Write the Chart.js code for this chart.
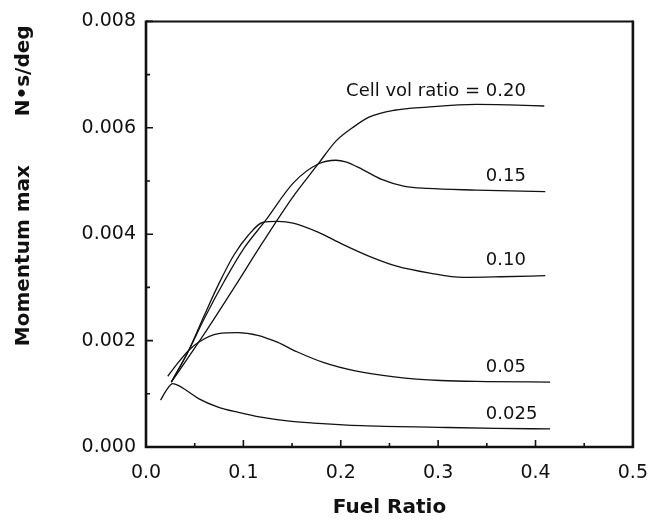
<!DOCTYPE html>
<html>
<head>
<meta charset="utf-8">
<script src="https://cdn.jsdelivr.net/npm/chart.js@4.4.1/dist/chart.umd.min.js"></script>
<style>
  html, body { margin: 0; padding: 0; background: #fff; }
  #wrap { width: 663px; height: 527px; }
</style>
</head>
<body>
<div id="wrap"><canvas id="momentumChart" width="663" height="527"></canvas></div>
<script>
// cell volume ratio for each curve (top to bottom)
const cellVolRatios = ['0.20', '0.15', '0.10', '0.05', '0.025'];

// fuel ratio (x) and max momentum N*s/deg (y)
const fuel020 = [0.026, 0.06, 0.09, 0.12, 0.15, 0.1768, 0.195, 0.212, 0.229, 0.255, 0.289, 0.339, 0.373, 0.409];
const mom020 = [0.00122, 0.00213, 0.00298, 0.00385, 0.00468, 0.00532, 0.00575, 0.0060, 0.0062, 0.00633, 0.00639, 0.00644, 0.00643, 0.00641];

const fuel015 = [0.026, 0.044, 0.06, 0.0805, 0.1, 0.122, 0.1516, 0.1768, 0.195, 0.205, 0.222, 0.242, 0.2656, 0.289, 0.339, 0.41];
const mom015 = [0.00122, 0.00182, 0.00242, 0.00312, 0.00372, 0.00424, 0.00497, 0.00532, 0.00539, 0.00536, 0.00522, 0.00503, 0.0049, 0.00486, 0.00483, 0.0048];

const fuel010 = [0.026, 0.044, 0.06, 0.0751, 0.09, 0.1046, 0.1197, 0.135, 0.151, 0.1766, 0.202, 0.23, 0.2574, 0.2915, 0.3255, 0.364, 0.41];
const mom010 = [0.00122, 0.00182, 0.00248, 0.00308, 0.0036, 0.00397, 0.00422, 0.00424, 0.00421, 0.00404, 0.00381, 0.00358, 0.0034, 0.00327, 0.00319, 0.0032, 0.00322];

const fuel005 = [0.0224, 0.031, 0.044, 0.054, 0.0744, 0.0946, 0.1147, 0.1348, 0.155, 0.182, 0.215, 0.255, 0.3025, 0.35, 0.415];
const mom005 = [0.00133, 0.00154, 0.00182, 0.00197, 0.00213, 0.00215, 0.0021, 0.00197, 0.00179, 0.00159, 0.00143, 0.00132, 0.00125, 0.00123, 0.00122];

const fuel0025 = [0.015, 0.021, 0.0275, 0.033, 0.041, 0.054, 0.074, 0.095, 0.118, 0.145, 0.172, 0.222, 0.3, 0.36, 0.415];
const mom0025 = [0.00088, 0.00107, 0.00119, 0.00116, 0.00107, 0.00091, 0.00075, 0.00065, 0.00056, 0.00049, 0.00045, 0.0004, 0.00037, 0.00035, 0.00034];

const fuelSeries = [fuel020, fuel015, fuel010, fuel005, fuel0025];
const momSeries = [mom020, mom015, mom010, mom005, mom0025];

const xMinorTicks = [0.05, 0.15, 0.25, 0.35, 0.45];
const yMinorTicks = [0.001, 0.003, 0.005, 0.007];

const ink = '#111';
Chart.defaults.font.family = "'DejaVu Sans', sans-serif";
Chart.defaults.color = ink;

// frame, inward ticks and curve labels
const frameAndLabels = {
  id: 'frameAndLabels',
  afterDraw(chart) {
    const { ctx, chartArea: a, scales: { x, y } } = chart;
    ctx.save();
    ctx.strokeStyle = ink;
    ctx.lineWidth = 2;
    ctx.beginPath();
    ctx.moveTo(a.left, a.top);
    ctx.lineTo(a.right, a.top);
    ctx.stroke();
    ctx.lineWidth = 2.6;
    ctx.beginPath();
    ctx.moveTo(a.left, a.top - 1);
    ctx.lineTo(a.left, a.bottom);
    ctx.lineTo(a.right, a.bottom);
    ctx.lineTo(a.right, a.top - 1);
    ctx.stroke();

    ctx.lineWidth = 1.6;
    ctx.beginPath();
    x.ticks.forEach(t => {
      const px = x.getPixelForValue(t.value);
      ctx.moveTo(px, a.bottom); ctx.lineTo(px, a.bottom - 7);
    });
    xMinorTicks.forEach(v => {
      const px = x.getPixelForValue(v);
      ctx.moveTo(px, a.bottom); ctx.lineTo(px, a.bottom - 4);
    });
    y.ticks.forEach(t => {
      const py = y.getPixelForValue(t.value);
      ctx.moveTo(a.left, py); ctx.lineTo(a.left + 7, py);
    });
    yMinorTicks.forEach(v => {
      const py = y.getPixelForValue(v);
      ctx.moveTo(a.left, py); ctx.lineTo(a.left + 4, py);
    });
    ctx.stroke();

    // labels sit left-aligned at fuel ratio 0.349, a bit above each curve's end
    ctx.fillStyle = ink;
    ctx.font = "18px 'DejaVu Sans'";
    ctx.textBaseline = 'middle';
    ctx.textAlign = 'left';
    const lx = x.getPixelForValue(0.349);
    cellVolRatios.forEach((r, i) => {
      const vals = momSeries[i];
      const ly = y.getPixelForValue(vals[vals.length - 1]) - 15;
      ctx.fillText(r, lx, ly);
      if (i === 0) {
        ctx.textAlign = 'right';
        ctx.fillText('Cell vol ratio = ', lx, ly);
        ctx.textAlign = 'left';
      }
    });
    ctx.restore();
  }
};

const chartCtx = document.getElementById('momentumChart').getContext('2d');
const momentumChart = new Chart(chartCtx, {
  type: 'line',
  data: {
    datasets: cellVolRatios.map((r, i) => ({
      label: r,
      data: fuelSeries[i].map((fx, j) => ({ x: fx, y: momSeries[i][j] })),
      borderColor: ink,
      borderWidth: 1.3,
      pointRadius: 0,
      fill: false,
      cubicInterpolationMode: 'monotone'
    }))
  },
  options: {
    responsive: false,
    animation: false,
    devicePixelRatio: 1,
    layout: { padding: { top: 20, right: 20, left: 0, bottom: 0 } },
    plugins: {
      legend: { display: false },
      tooltip: { enabled: false }
    },
    scales: {
      x: {
        type: 'linear',
        min: 0,
        max: 0.5,
        grid: { display: false, drawTicks: false },
        border: { display: false },
        ticks: {
          stepSize: 0.1,
          autoSkip: false,
          maxRotation: 0,
          padding: 15,
          font: { size: 19 },
          callback: v => v.toFixed(1)
        },
        title: {
          display: true,
          text: 'Fuel Ratio',
          font: { size: 20, weight: 'bold' },
          padding: { top: 0, bottom: 7 }
        },
        afterFit: s => { s.height = 80; }
      },
      y: {
        min: 0,
        max: 0.008,
        grid: { display: false, drawTicks: false },
        border: { display: false },
        ticks: {
          stepSize: 0.002,
          padding: 10,
          font: { size: 19 },
          callback: v => v.toFixed(3)
        },
        title: {
          display: true,
          text: 'Momentum max       N\u2022s/deg\u2009',
          align: 'end',
          font: { size: 20, weight: 'bold' },
          padding: { top: 12, bottom: 0 }
        },
        afterFit: s => { s.width = 146; }
      }
    }
  },
  plugins: [frameAndLabels]
});
</script>
</body>
</html>
